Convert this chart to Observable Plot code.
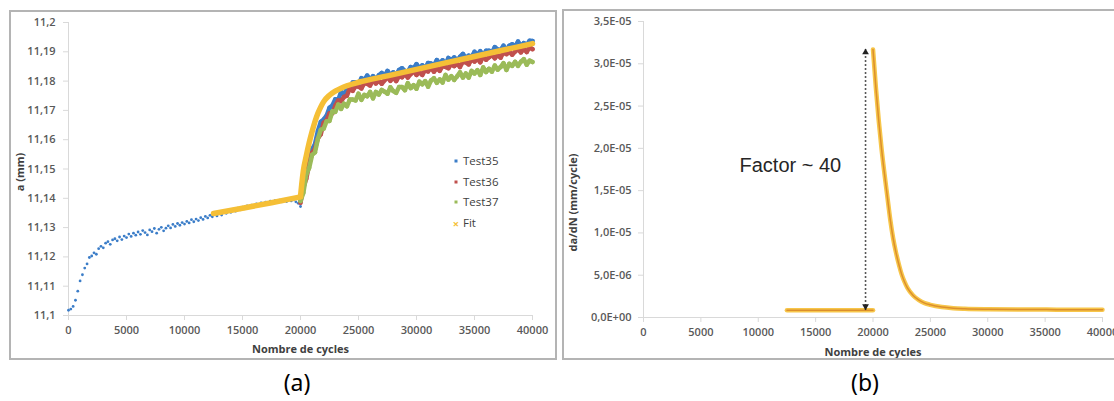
<!DOCTYPE html>
<html>
<head>
<meta charset="utf-8">
<script src="https://cdn.jsdelivr.net/npm/d3@7"></script>
<script src="https://cdn.jsdelivr.net/npm/@observablehq/plot@0.6"></script>
<style>
  html, body { margin: 0; padding: 0; background: #fff; overflow: hidden; }
  #wrap { position: relative; width: 1114px; height: 401px; overflow: hidden; background: #fff; font-family: "Open Sans", sans-serif; }
  .panel { position: absolute; border: 2px solid #b4b4b4; background: #fff; }
  .panel svg { display: block; }
  .legend { position: absolute; left: 0; top: 0; font-size: 11.5px; color: #404040; }
  .legend .row { position: absolute; white-space: nowrap; line-height: 14px; transform: translateY(-50%); }
  .legend .mk { position: absolute; transform: translate(-50%, -50%); }
  .caption { position: absolute; font-family: "Noto Sans", sans-serif; font-size: 23px; color: #000; transform: translate(-50%, -50%); }
</style>
</head>
<body>
<div id="wrap">
  <div class="panel" id="panelA" style="left:9px;top:10px;width:544px;height:346px"></div>
  <div class="panel" id="panelB" style="left:562px;top:9px;width:560px;height:347px"></div>
</div>
<script>
// ---- axes ----
const xTicks = [0, 5000, 10000, 15000, 20000, 25000, 30000, 35000, 40000];
const aTicks = [11.1, 11.11, 11.12, 11.13, 11.14, 11.15, 11.16, 11.17, 11.18, 11.19, 11.2];
const rateTicks = [0, 0.000005, 0.00001, 0.000015, 0.00002, 0.000025, 0.00003, 0.000035];

// ---- series ----
const seriesNames = ["Test35", "Test36", "Test37", "Fit"];
const seriesColors = ["#3b7dc8", "#c0504d", "#9bbb59", "#f5bf36"];
const panelCaptions = ["(a)", "(b)"];

// Test35 crack length (mm), first block: every 200 cycles from 0 to 20000
const earlyStart = 0, earlyStep = 200;
const test35Early = [
  11.1018, 11.1022, 11.1031, 11.1052, 11.1083, 11.1118, 11.1139, 11.1162, 11.1176, 11.1198,
  11.1203, 11.1214, 11.1209, 11.1228, 11.1236, 11.1231, 11.1247, 11.1252, 11.1243, 11.1258,
  11.1262, 11.1255, 11.1268, 11.1259, 11.1271, 11.1266, 11.1278, 11.1270, 11.1281, 11.1274,
  11.1285, 11.1277, 11.1290, 11.1283, 11.1275, 11.1292, 11.1286, 11.1297, 11.1281, 11.1294,
  11.1301, 11.1289, 11.1298, 11.1306, 11.1299, 11.1311, 11.1304, 11.1314, 11.1308, 11.1317,
  11.1312, 11.1321, 11.1316, 11.1327, 11.1320, 11.1329, 11.1324, 11.1334, 11.1328, 11.1338,
  11.1333, 11.1342, 11.1337, 11.1346, 11.1340, 11.1350, 11.1343, 11.1354, 11.1349, 11.1358,
  11.1352, 11.1363, 11.1356, 11.1366, 11.1361, 11.1370, 11.1364, 11.1374, 11.1368, 11.1377,
  11.1371, 11.1381, 11.1375, 11.1384, 11.1378, 11.1387, 11.1381, 11.1390, 11.1384, 11.1392,
  11.1386, 11.1394, 11.1388, 11.1396, 11.1389, 11.1397, 11.1391, 11.1395, 11.1388, 11.1383,
  11.1372
];

// Second block (after the overload): every 250 cycles from 20000 to 40000
const lateStart = 20000, lateStep = 250;
const test35Late = [
  11.1396, 11.1436, 11.1499, 11.1523, 11.1567, 11.1585, 11.1630, 11.1661, 11.1669, 11.1682,
  11.1709, 11.1717, 11.1738, 11.1735, 11.1764, 11.1753, 11.1774, 11.1775, 11.1795, 11.1796,
  11.1791, 11.1810, 11.1804, 11.1819, 11.1804, 11.1817, 11.1806, 11.1820, 11.1828, 11.1818,
  11.1835, 11.1820, 11.1830, 11.1821, 11.1838, 11.1844, 11.1835, 11.1832, 11.1848, 11.1843,
  11.1858, 11.1844, 11.1854, 11.1844, 11.1862, 11.1860, 11.1853, 11.1872, 11.1860, 11.1871,
  11.1857, 11.1879, 11.1871, 11.1881, 11.1870, 11.1883, 11.1893, 11.1879, 11.1887, 11.1883,
  11.1900, 11.1890, 11.1902, 11.1888, 11.1904, 11.1904, 11.1897, 11.1916, 11.1908, 11.1906,
  11.1921, 11.1906, 11.1921, 11.1926, 11.1918, 11.1935, 11.1920, 11.1930, 11.1923, 11.1938,
  11.1937
];
const test36 = [
  11.1385, 11.1437, 11.1467, 11.1516, 11.1555, 11.1569, 11.1605, 11.1619, 11.1658, 11.1666,
  11.1690, 11.1690, 11.1716, 11.1734, 11.1731, 11.1746, 11.1750, 11.1775, 11.1767, 11.1783,
  11.1781, 11.1775, 11.1793, 11.1791, 11.1785, 11.1803, 11.1792, 11.1802, 11.1791, 11.1803,
  11.1813, 11.1801, 11.1812, 11.1800, 11.1818, 11.1813, 11.1825, 11.1812, 11.1824, 11.1834,
  11.1821, 11.1830, 11.1821, 11.1838, 11.1833, 11.1846, 11.1832, 11.1844, 11.1835, 11.1852,
  11.1848, 11.1844, 11.1860, 11.1851, 11.1860, 11.1848, 11.1866, 11.1864, 11.1857, 11.1875,
  11.1867, 11.1876, 11.1864, 11.1885, 11.1873, 11.1881, 11.1889, 11.1878, 11.1889, 11.1880,
  11.1899, 11.1892, 11.1900, 11.1890, 11.1901, 11.1909, 11.1898, 11.1910, 11.1899, 11.1916,
  11.1909
];
const test37 = [
  11.1391, 11.1419, 11.1482, 11.1504, 11.1548, 11.1557, 11.1603, 11.1634, 11.1638, 11.1663,
  11.1664, 11.1697, 11.1695, 11.1720, 11.1705, 11.1723, 11.1714, 11.1737, 11.1737, 11.1734,
  11.1757, 11.1736, 11.1753, 11.1748, 11.1763, 11.1741, 11.1763, 11.1754, 11.1770, 11.1764,
  11.1757, 11.1779, 11.1766, 11.1760, 11.1780, 11.1780, 11.1769, 11.1793, 11.1776, 11.1786,
  11.1774, 11.1798, 11.1789, 11.1800, 11.1781, 11.1802, 11.1810, 11.1794, 11.1806, 11.1795,
  11.1821, 11.1805, 11.1817, 11.1804, 11.1816, 11.1830, 11.1812, 11.1826, 11.1812, 11.1835,
  11.1826, 11.1837, 11.1821, 11.1847, 11.1831, 11.1842, 11.1832, 11.1853, 11.1839, 11.1848,
  11.1861, 11.1838, 11.1859, 11.1852, 11.1866, 11.1852, 11.1866, 11.1875, 11.1856, 11.1870,
  11.1865
];

// Fitted crack length: before and after the overload
const fitPreCycles = [12500, 15000, 17500, 20000];
const fitPreA = [11.1348, 11.1366, 11.1385, 11.1405];
const fitPostCycles = [20000, 20100, 20250, 20500, 20750, 21000, 21250, 21500, 21750, 22000,
  22500, 23000, 23500, 24000, 25000, 27500, 30000, 32500, 35000, 37500, 40000];
const fitPostA = [11.1405, 11.1445, 11.1495, 11.1545, 11.1590, 11.1628, 11.1662, 11.1690, 11.1712, 11.1730,
  11.1752, 11.1766, 11.1776, 11.1784, 11.1796, 11.1818, 11.1840, 11.1862, 11.1884, 11.1906, 11.1928];

// Crack growth rate da/dN (mm/cycle) from the fit
const rateBaseCycles = [12500, 20000];
const rateBaseValues = [0.00000085, 0.00000085];
const rateCycles = [20000, 20250, 20500, 20750, 21000, 21250, 21500, 21750, 22000, 22250,
  22500, 22750, 23000, 23500, 24000, 24500, 25000, 26000, 27000, 28000, 30000, 33000, 36000, 40000];
const rateValues = [3.17e-5, 2.72e-5, 2.33e-5, 1.99e-5, 1.70e-5, 1.43e-5, 1.16e-5, 0.94e-5, 0.77e-5, 0.63e-5,
  0.51e-5, 0.42e-5, 0.35e-5, 0.26e-5, 0.205e-5, 0.17e-5, 0.15e-5, 0.124e-5, 0.11e-5, 0.103e-5,
  0.097e-5, 0.094e-5, 0.093e-5, 0.092e-5];

// Annotation of the rate jump
const factorLabel = "Factor ~ 40";
const factorLabelCycles = 12800, factorLabelRate = 1.8e-5;
const arrowCycles = 19350;

// ---- helpers ----
const axisGray = "#d9d9d9", tickText = "#595959", titleText = "#404040";
const fmtA = d => String(+d.toFixed(2)).replace(".", ",");
const fmtRate = d => {
  if (d === 0) return "0,0E+00";
  const e = Math.floor(Math.log10(d) + 1e-9);
  const m = d / Math.pow(10, e);
  return m.toFixed(1).replace(".", ",") + "E" + (e < 0 ? "-" : "+") + String(Math.abs(e)).padStart(2, "0");
};
const [c35, c36, c37, cFit] = seriesColors;

const early = test35Early.map((a, i) => ({cycles: earlyStart + i * earlyStep, a}));
const lateOf = arr => arr.map((a, i) => ({cycles: lateStart + i * lateStep, a}));
const late35 = lateOf(test35Late), late36 = lateOf(test36), late37 = lateOf(test37);
const fitPre = fitPreCycles.map((c, i) => ({cycles: c, a: fitPreA[i]}));
const fitPost = fitPostCycles.map((c, i) => ({cycles: c, a: fitPostA[i]}));

const rateBase = rateBaseCycles.map((c, i) => ({cycles: c, v: rateBaseValues[i]}));
const rateDecay = rateCycles.map((c, i) => ({cycles: c, v: rateValues[i]}));
const ratePeak = d3.max(rateValues);
const rateFloor = rateBaseValues[0];

// dense measurement clouds: overlapping markers joined into a jagged band
const cloud = (data, color) => [
  Plot.line(data, {x: "cycles", y: "a", stroke: color, strokeWidth: 4.5, strokeLinejoin: "round"}),
  Plot.dot(data, {x: "cycles", y: "a", r: 2.2, fill: color})
];

const tickStyle = {fontWeight: 600};

// ---- panel (a): crack length ----
const plotA = Plot.plot({
  width: 544, height: 346,
  marginLeft: 57, marginRight: 23, marginTop: 10, marginBottom: 43,
  style: {fontFamily: "'Open Sans', sans-serif", fontSize: "11px", background: "#fff"},
  x: {domain: [0, 40000]},
  y: {domain: [11.1, 11.2]},
  marks: [
    Plot.ruleX([0], {stroke: axisGray}),
    Plot.ruleY([11.1], {stroke: axisGray}),
    Plot.axisY({ticks: aTicks, tickFormat: fmtA, tickSize: 5, tickPadding: 8, stroke: axisGray, fill: tickText, label: null, ...tickStyle}),
    Plot.axisX({ticks: xTicks, tickFormat: d => String(d), tickSize: 5, tickPadding: 6, stroke: axisGray, fill: tickText, label: null, ...tickStyle}),
    Plot.dot(early, {x: "cycles", y: "a", r: 1.4, fill: c35}),
    ...cloud(late35, c35),
    ...cloud(late36, c36),
    ...cloud(late37, c37),
    Plot.line(fitPre, {x: "cycles", y: "a", stroke: cFit, strokeWidth: 5.5}),
    Plot.line(fitPost, {x: "cycles", y: "a", stroke: cFit, strokeWidth: 5.5, curve: "monotone-x"}),
    Plot.text(["Nombre de cycles"], {text: d => d, frameAnchor: "bottom", dy: 34, lineAnchor: "middle", textAnchor: "middle", fontWeight: "bold", fill: titleText}),
    Plot.text(["a (mm)"], {text: d => d, frameAnchor: "left", dx: -48, dy: 3, rotate: -90, lineAnchor: "middle", textAnchor: "middle", fontWeight: "bold", fill: titleText})
  ]
});
document.getElementById("panelA").appendChild(plotA);

// legend of panel (a)
const legend = document.createElement("div");
legend.className = "legend";
seriesNames.forEach((name, i) => {
  const y = 149 + i * 20.5;
  const mk = document.createElement("div");
  mk.className = "mk";
  mk.style.left = "445px";
  mk.style.top = y + "px";
  if (name === "Fit") {
    mk.textContent = "\u00d7";
    mk.style.color = seriesColors[i];
    mk.style.fontSize = "11px";
    mk.style.fontWeight = "bold";
  } else {
    mk.style.width = "3px";
    mk.style.height = "3px";
    mk.style.background = seriesColors[i];
  }
  const row = document.createElement("div");
  row.className = "row";
  row.style.left = "452px";
  row.style.top = y + "px";
  row.textContent = name;
  legend.appendChild(mk);
  legend.appendChild(row);
});
document.getElementById("panelA").appendChild(legend);

// ---- panel (b): crack growth rate ----
const rateLine = (data, curve) => [
  Plot.line(data, {x: "cycles", y: "v", stroke: "#f7c64a", strokeWidth: 4.5, curve}),
  Plot.line(data, {x: "cycles", y: "v", stroke: "#dc8f2c", strokeWidth: 1.5, curve})
];
const plotB = Plot.plot({
  width: 560, height: 347,
  marginLeft: 79, marginRight: 22, marginTop: 10, marginBottom: 41,
  style: {fontFamily: "'Open Sans', sans-serif", fontSize: "11px", background: "#fff"},
  x: {domain: [0, 40000]},
  y: {domain: [0, 0.000035]},
  marks: [
    Plot.ruleX([0], {stroke: axisGray}),
    Plot.ruleY([0], {stroke: axisGray}),
    Plot.axisY({ticks: rateTicks, tickFormat: fmtRate, tickSize: 5, tickPadding: 7, stroke: axisGray, fill: tickText, label: null, ...tickStyle}),
    Plot.axisX({ticks: xTicks, tickFormat: d => String(d), tickSize: 5, tickPadding: 6, stroke: axisGray, fill: tickText, label: null, ...tickStyle}),
    ...rateLine(rateBase, "linear"),
    ...rateLine(rateDecay, "monotone-x"),
    Plot.ruleX([arrowCycles], {y1: rateFloor, y2: ratePeak, stroke: "#222", strokeWidth: 1.6, strokeDasharray: "1.6,2.4"}),
    Plot.dot([ratePeak], {x: () => arrowCycles, y: d => d, symbol: "triangle", r: 2.5, fill: "#222", dy: 3}),
    Plot.dot([rateFloor], {x: () => arrowCycles, y: d => d, symbol: "triangle", r: 2.5, fill: "#222", rotate: 180, dy: -4}),
    Plot.text([factorLabel], {text: d => d, x: () => factorLabelCycles, y: () => factorLabelRate, fontSize: 20, fontFamily: "'Liberation Sans', Arial, sans-serif", fill: "#262626"}),
    Plot.text(["Nombre de cycles"], {text: d => d, frameAnchor: "bottom", dy: 35, lineAnchor: "middle", textAnchor: "middle", fontWeight: "bold", fill: titleText}),
    Plot.text(["da/dN (mm/cycle)"], {text: d => d, frameAnchor: "left", dx: -70, dy: 33, rotate: -90, lineAnchor: "middle", textAnchor: "middle", fontWeight: "bold", fill: titleText})
  ]
});
document.getElementById("panelB").appendChild(plotB);

// panel captions
const wrap = document.getElementById("wrap");
[[297, 382], [865, 382]].forEach(([x, y], i) => {
  const c = document.createElement("div");
  c.className = "caption";
  c.style.left = x + "px";
  c.style.top = y + "px";
  c.textContent = panelCaptions[i];
  wrap.appendChild(c);
});
</script>
</body>
</html>
